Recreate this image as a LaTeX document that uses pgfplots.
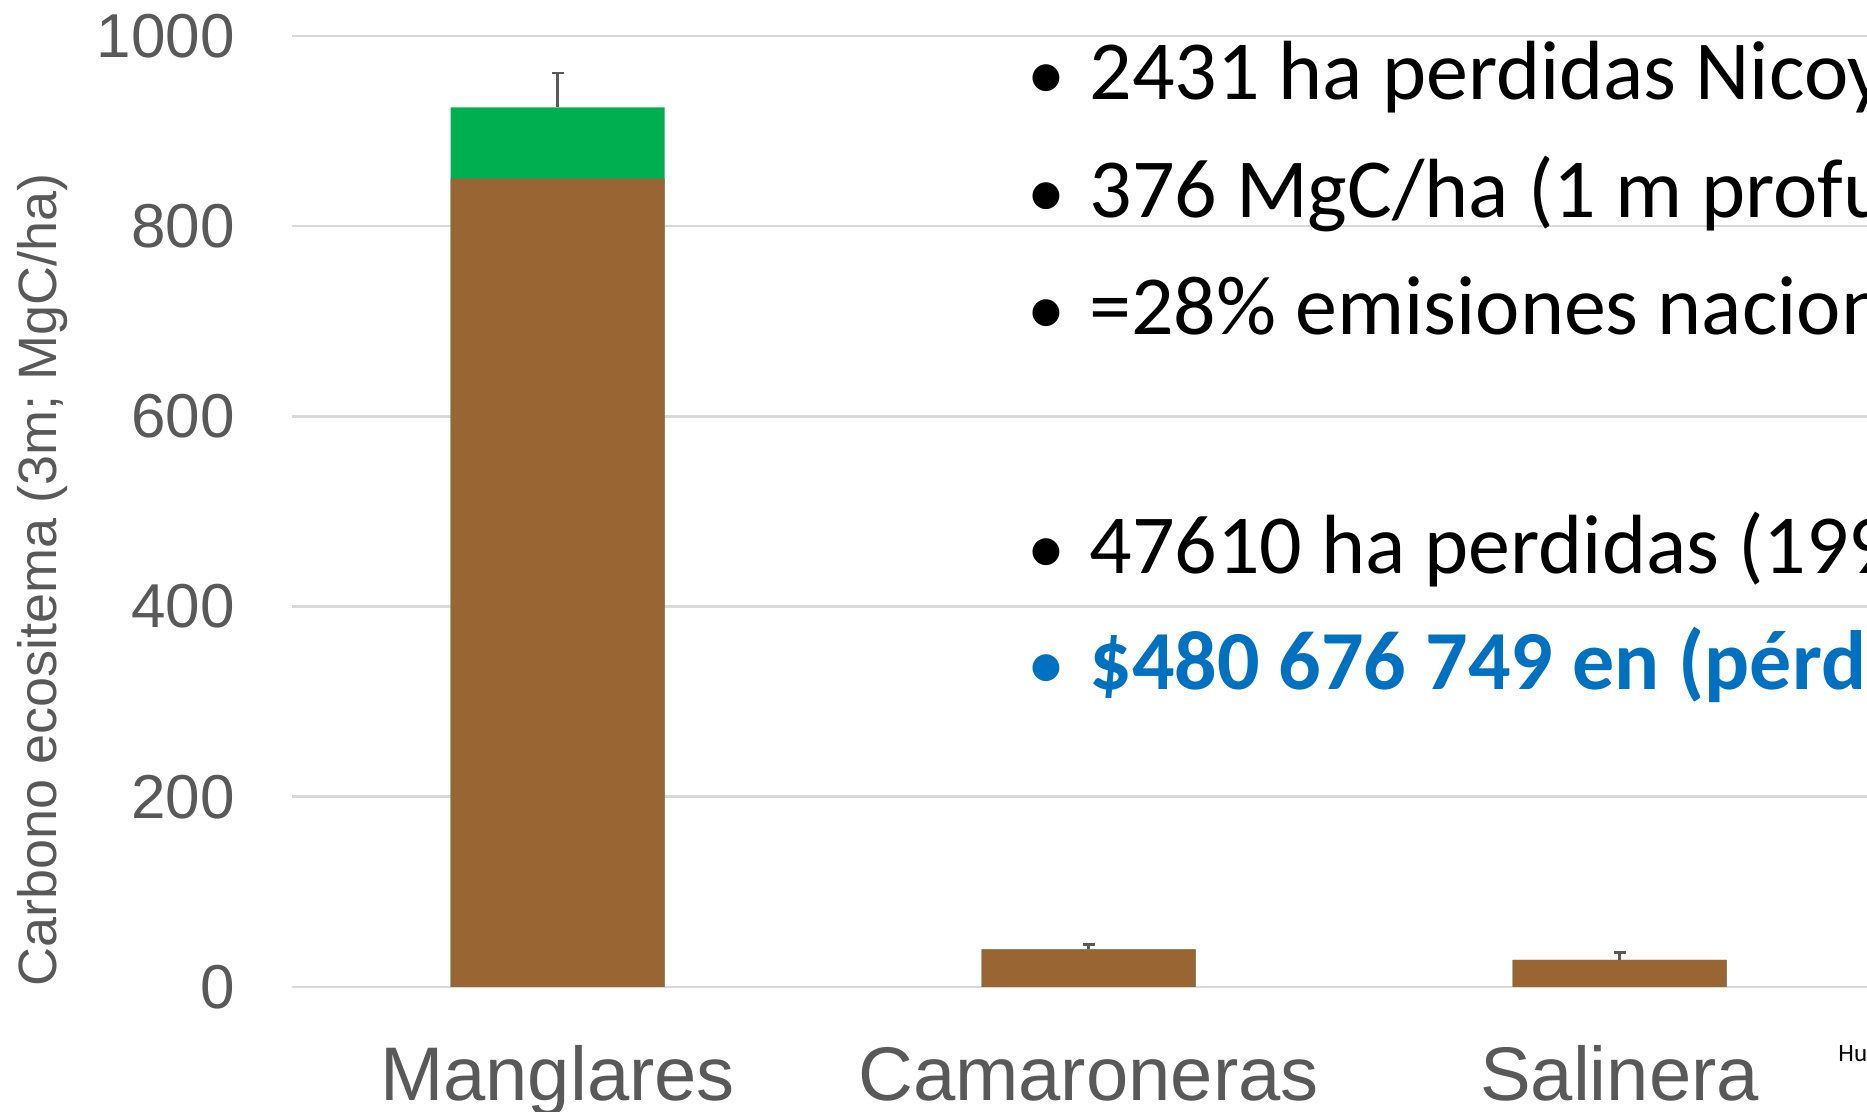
\documentclass[border=0pt]{standalone}
\usepackage{pgfplots}
\pgfplotsset{compat=1.18}
\usepackage{fontspec}
\setmainfont{Carlito}
\newfontfamily\arialf{Liberation Sans}
\definecolor{brownbar}{HTML}{996633}
\definecolor{greenbar}{HTML}{00B050}
\definecolor{gridc}{HTML}{D9D9D9}
\definecolor{txtgray}{HTML}{595959}
\definecolor{errc}{HTML}{595959}
\definecolor{blueb}{HTML}{0070C0}
\begin{document}
\begin{tikzpicture}
\begin{axis}[
  at={(146pt,62.5pt)}, anchor=south west,
  scale only axis, width=796.5pt, height=475.5pt,
  xmin=-0.5, xmax=2.5, ymin=0, ymax=1000,
  xtick={0,1,2}, xticklabels={Manglares,Camaroneras,Salinera},
  ytick={0,200,400,600,800,1000},
  yticklabels={0,200,400,600,800,1000},
  axis line style={draw=none},
  major tick length=0pt,
  ymajorgrids, grid style={gridc, line width=1.3pt},
  yticklabel style={font=\arialf\fontsize{31pt}{37pt}\selectfont, text=txtgray, anchor=east, inner sep=0pt, xshift=-28.5pt},
  xticklabel style={font=\arialf\fontsize{38pt}{45pt}\selectfont, text=txtgray, anchor=base, inner sep=0pt, yshift=-56.5pt},
  clip=false,
]
\addplot[ybar, bar width=107pt, bar shift=0pt, fill=greenbar, draw=none,
  error bars/.cd, y dir=plus, y explicit,
  error bar style={draw=errc, line width=1.4pt},
  error mark options={draw=errc, line width=1.4pt, mark size=3pt, rotate=90}]
  coordinates {(0,925) +- (0,36) (1,39.6) +- (0,5.4) (2,28.6) +- (0,8)};
\addplot[ybar, bar width=107pt, bar shift=0pt, fill=brownbar, draw=none]
  coordinates {(0,850) (1,39.6) (2,28.6)};
\end{axis}
\node[rotate=90, inner sep=0pt, font=\arialf\fontsize{27pt}{32pt}\selectfont, text=txtgray] at (21.5pt,266pt) {Carbono ecositema (3m; MgC/ha)};
\begin{scope}[every node/.style={anchor=base west, inner sep=0pt, font=\fontsize{42pt}{50pt}\selectfont}]
\node[font=\fontsize{38pt}{46pt}\selectfont] at (513.5pt,506pt) {\textbullet};
\node at (544.5pt,506pt) {2431 ha perdidas Nicoya};
\node[font=\fontsize{38pt}{46pt}\selectfont] at (513.5pt,447pt) {\textbullet};
\node at (544.5pt,447pt) {376 MgC/ha (1 m profundidad)};
\node[font=\fontsize{38pt}{46pt}\selectfont] at (513.5pt,388.5pt) {\textbullet};
\node at (544.5pt,388.5pt) {=28\% emisiones nacionales};
\node[font=\fontsize{38pt}{46pt}\selectfont] at (513.5pt,269pt) {\textbullet};
\node at (544.5pt,269pt) {47610 ha perdidas (1990--2015)};
\node[text=blueb, font=\fontsize{38pt}{46pt}\selectfont] at (513.5pt,211pt) {\textbullet};
\node[text=blueb] at (544.5pt,211pt) {\bfseries \$480 676 749 en (pérdidas)};
\end{scope}
\node[anchor=base west, inner sep=0pt, font=\fontsize{12.5pt}{15pt}\selectfont] at (919pt,25pt) {Hutchison et al.};
\pgfresetboundingbox
\path[use as bounding box] (0,0) rectangle (933.5pt,556pt);
\end{tikzpicture}
\end{document}
